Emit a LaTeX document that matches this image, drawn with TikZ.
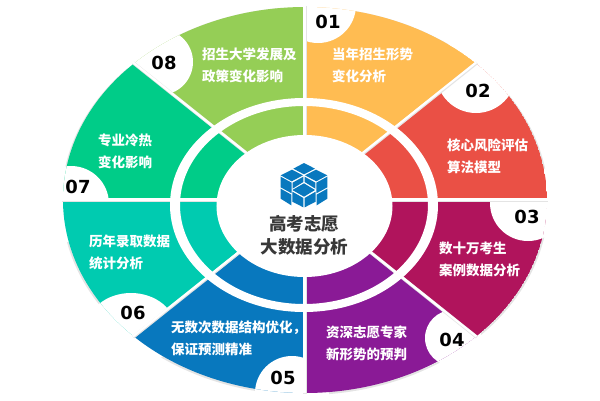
\documentclass[tikz,border=0pt]{standalone}
\usepackage{fontspec}
\newfontfamily\cjk{Noto Sans CJK SC}
\setsansfont{DejaVu Sans}
\definecolor{secorange}{HTML}{FFBC52}
\definecolor{secred}{HTML}{EA5045}
\definecolor{secmagenta}{HTML}{B0145C}
\definecolor{secpurple}{HTML}{8A1A96}
\definecolor{secblue}{HTML}{0878BE}
\definecolor{secteal}{HTML}{00CBB0}
\definecolor{secgreen}{HTML}{00CC88}
\definecolor{seclime}{HTML}{95CE56}
\definecolor{shadowgray}{HTML}{E4E4E4}
\newcommand{\wedgepath}[1]{(0,0) -- (#1:242pt and 193pt) arc[start angle=#1, end angle=#1+45, x radius=242pt, y radius=193pt] -- cycle}
\tikzset{
  seclabel/.style={anchor=west, align=left, inner sep=0pt, text=white,
    font=\cjk\bfseries\fontsize{13.5}{22}\selectfont},
  numlabel/.style={inner sep=0pt, text=black,
    font=\sffamily\bfseries\fontsize{18}{20}\selectfont},
  centerlabel/.style={align=center, inner sep=0pt, text=black!78,
    font=\cjk\bfseries\fontsize{17.5}{23}\selectfont},
  cubeface/.style={fill=secblue}
}
\begin{document}
\begin{tikzpicture}[x=1pt,y=1pt]
  \useasboundingbox (-305,-200) rectangle (295,200);

  % soft edge under the disc, notches stay white
  \fill[shadowgray] (0,-1) ellipse [x radius=243.5, y radius=194];
  \foreach \nx/\ny/\rx/\ry in {13/195/38/38, 171/127/40/40, 223/-3/38/38, 148/-138/28/28,
    -13/-193/37/37, -174/-130/45/37, -234/-4/38/38, -145/138/33/33}
    \fill[white] (\nx,\ny) ellipse [x radius=\rx, y radius=\ry];

  % eight sectors, each with its notch
  \foreach \a/\col/\nx/\ny/\rx/\ry in {45/secorange/13/195/38/38, 0/secred/171/127/40/40,
    -45/secmagenta/223/-3/38/38, -90/secpurple/148/-138/28/28,
    -135/secblue/-13/-193/37/37, -180/secteal/-174/-130/45/37,
    135/secgreen/-234/-4/38/38, 90/seclime/-145/138/33/33}
  {
    \begin{scope}
      \clip \wedgepath{\a};
      \fill[\col] \wedgepath{\a};
      \fill[white] (\nx,\ny) ellipse [x radius=\rx, y radius=\ry];
    \end{scope}
  }

  % gaps between sectors
  \foreach \a in {0,45,...,315}
  {
    \draw[shadowgray, line width=3.2pt] (\a:60pt and 48pt) -- (\a:243pt and 194pt);
    \draw[white, line width=2.2pt] ([shift={(-0.4,0.6)}]\a:60pt and 48pt) -- ([shift={(-0.4,0.6)}]\a:243pt and 194pt);
  }

  % white ring and middle
  \fill[white, even odd rule] (-1,-5) ellipse [x radius=134, y radius=107]
    (-1,-5) ellipse [x radius=124, y radius=99];
  \fill[white] (-0.5,-6) ellipse [x radius=88, y radius=71];

  % cube icon
  \begin{scope}[shift={(-1,15)},x=0.3333pt,y=-0.3333pt]
    \foreach \ax/\ay/\bx/\by/\cx/\cy/\ex/\ey in {0/-66/33/-49/0/-32/-32/-49,
      -70/-29/-36/-46/-3/-29/-37/-11, 70/-29/36/-46/3/-29/37/-11,
      -70/-25/-37/-7/-37/25/-70/7, 70/-25/37/-7/37/25/70/7,
      -34/-7/-2/-25/-2/-9/-34/11, 34/-7/2/-25/2/-9/34/11,
      0/-5/33/15/0/35/-35/15,
      -70/11/-38/29/-38/61/-70/41, 70/11/38/29/38/61/70/41,
      -35/20/-2/39/-2/67/-35/50, 35/20/2/39/2/67/35/50}
      \fill[cubeface] (\ax,\ay) -- (\bx,\by) -- (\cx,\cy) -- (\ex,\ey) -- cycle;
  \end{scope}
  \node[centerlabel] (title) at (-0.5,-35.5) {高考志愿\\大数据分析};

  % sector texts
  \node[seclabel] (texta) at (27,135) {当年招生形势\\变化分析};
  \node[seclabel] (textb) at (142,44) {核心风险评估\\算法模型};
  \node[seclabel] (textc) at (134,-59) {数十万考生\\案例数据分析};
  \node[seclabel] (textd) at (21,-143) {资深志愿专家\\新形势的预判};
  \node[seclabel] (texte) at (-134,-138) {无数次数据结构优化，\\保证预测精准};
  \node[seclabel] (textf) at (-216,-52.5) {历年录取数据\\统计分析};
  \node[seclabel] (textg) at (-207,49) {专业冷热\\变化影响};
  \node[seclabel] (texth) at (-103,135) {招生大学发展及\\政策变化影响};

  % numbers
  \node[numlabel] (numa) at (23,178) {01};
  \node[numlabel] (numb) at (173,109) {02};
  \node[numlabel] (numc) at (222,-17) {03};
  \node[numlabel] (numd) at (147,-140) {04};
  \node[numlabel] (nume) at (-22,-178) {05};
  \node[numlabel] (numf) at (-172,-113) {06};
  \node[numlabel] (numg) at (-227,13) {07};
  \node[numlabel] (numh) at (-141,137) {08};
\end{tikzpicture}
\end{document}
